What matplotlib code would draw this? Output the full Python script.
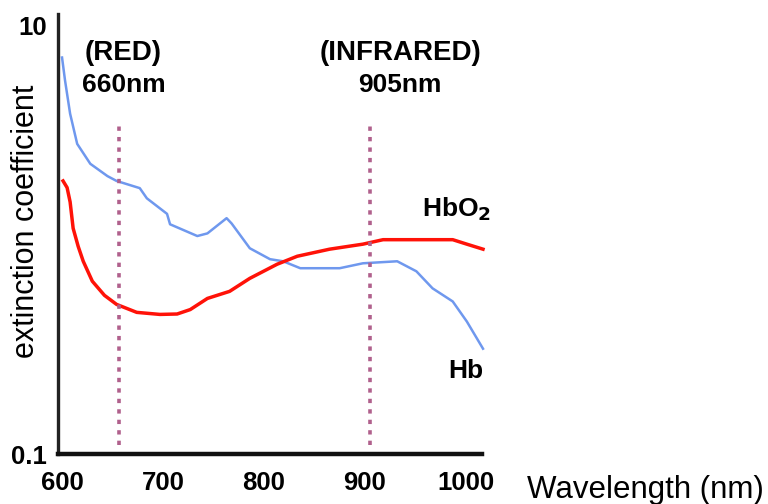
import numpy as np
import matplotlib
matplotlib.use("Agg")
import matplotlib.pyplot as plt
from matplotlib.ticker import FixedLocator, FixedFormatter, NullLocator

plt.rcParams["font.family"] = ["Liberation Sans", "DejaVu Sans"]

# absorption data (wavelength nm, extinction coefficient)
hb_wl = [600, 603, 608, 615, 628, 645, 654, 677, 684, 704, 707, 734, 744, 763, 768,
         786, 806, 819, 836, 875, 898, 932, 951, 967, 987, 1001, 1017]
hb_val = [7.08, 5.52, 3.87, 2.80, 2.26, 1.98, 1.88, 1.74, 1.56, 1.32, 1.18, 1.04, 1.07, 1.26, 1.19,
          0.912, 0.811, 0.793, 0.736, 0.736, 0.776, 0.793, 0.712, 0.593, 0.515, 0.415, 0.310]

hbo2_wl = [601, 605, 608, 611, 616, 621, 630, 642, 654, 674, 697, 714, 727, 744, 766, 786, 813, 833,
           865, 898, 918, 987, 1001, 1017]
hbo2_val = [1.88, 1.75, 1.50, 1.13, 0.93, 0.793, 0.640, 0.550, 0.499, 0.458, 0.448, 0.450, 0.472,
            0.532, 0.574, 0.660, 0.768, 0.837, 0.903, 0.953, 1.00, 1.00, 0.953, 0.903]

marker_wl = [656, 905]
label_wl = [661, 935]
marker_labels = [("(RED)", "660nm"), ("(INFRARED)", "905nm")]
x_ticks = [600, 700, 800, 900, 1000]
y_ticks = [0.1, 10]

fig = plt.figure(figsize=(7.68, 5.04), dpi=100)
ax = fig.add_axes([58 / 768, 1 - 454 / 504, 424 / 768, 440 / 504])

ax.set_yscale("log")
ax.set_xlim(596, 1016)
ax.set_ylim(0.1, 11.3)

ax.plot(hb_wl, hb_val, color="#6f98ee", lw=1.8, clip_on=False)
ax.plot(hbo2_wl, hbo2_val, color="#ff1208", lw=2.5, clip_on=False)

for wl in marker_wl:
    ax.plot([wl, wl], [0.110, 3.4], color="#b0608c", lw=2.6, ls=(0, (1.2, 1.7)))

for wl, (top, bottom) in zip(label_wl, marker_labels):
    ax.text(wl, 7.4, top, ha="center", va="center", fontsize=20, fontweight="bold")
    ax.text(wl, 5.25, bottom, ha="center", va="center", fontsize=19, fontweight="bold")

ax.text(957, 1.39, "HbO$_\\mathbf{2}$", ha="left", va="center", fontsize=19, fontweight="bold")
ax.text(1017, 0.243, "Hb", ha="right", va="center", fontsize=19, fontweight="bold")

for side in ["top", "right"]:
    ax.spines[side].set_visible(False)
ax.spines["left"].set_color("#222222")
ax.spines["left"].set_linewidth(2.4)
ax.spines["bottom"].set_color("#111111")
ax.spines["bottom"].set_linewidth(3.2)

ax.xaxis.set_major_locator(FixedLocator(x_ticks))
ax.set_xticklabels([str(t) for t in x_ticks], fontsize=18.5, fontweight="bold")
ax.xaxis.set_minor_locator(FixedLocator([1000]))
ax.tick_params(axis="x", which="major", length=0, pad=12)
ax.tick_params(axis="x", which="minor", direction="in", length=14, width=2.5, color="#a0a0a0")

ax.yaxis.set_major_locator(FixedLocator(y_ticks))
ax.yaxis.set_major_formatter(FixedFormatter(["0.1", "10"]))
ax.yaxis.set_minor_locator(NullLocator())
ax.tick_params(axis="y", which="major", length=0, pad=8, labelsize=18.5)
for lab in ax.get_yticklabels():
    lab.set_fontweight("bold")

fig.text(26 / 768, 1 - 221 / 504, "extinction coefficient", rotation=90,
         ha="center", va="center", fontsize=22)
fig.text(527 / 768, 1 - 490 / 504, "Wavelength (nm)", ha="left", va="center", fontsize=22.5)

fig.savefig("out.png", dpi=100)
